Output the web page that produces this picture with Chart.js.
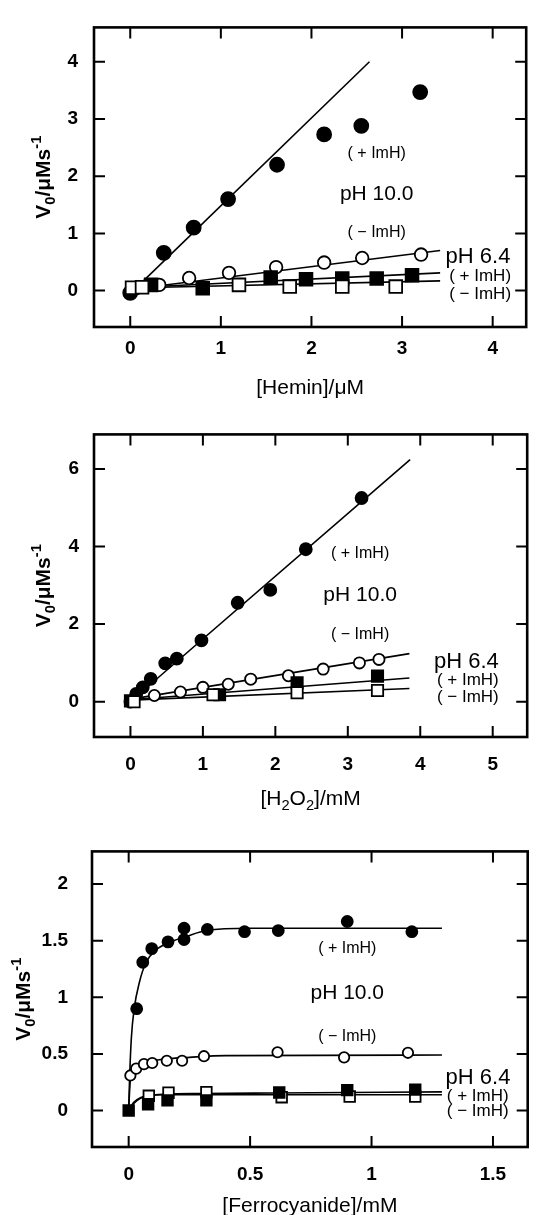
<!DOCTYPE html>
<html>
<head>
<meta charset="utf-8">
<script src="https://cdn.jsdelivr.net/npm/chart.js@4.4.0/dist/chart.umd.min.js"></script>
<style>
  html, body { margin: 0; padding: 0; background: #fff; }
  body { width: 537px; height: 1215px; position: relative; overflow: hidden; }
  .panel { position: absolute; left: 0; }
</style>
</head>
<body>
<div class="panel" style="top:0"><canvas id="hemin" width="537" height="408"></canvas></div>
<div class="panel" style="top:408px"><canvas id="peroxide" width="537" height="408"></canvas></div>
<div class="panel" style="top:816px"><canvas id="ferro" width="537" height="399"></canvas></div>
<script>
const FONT = '"Liberation Sans", Arial, Helvetica, sans-serif';

// ---- [Hemin] panel ----
let heminTicksX = [0, 1, 2, 3, 4];
let heminTicksY = [0, 1, 2, 3, 4];
let heminPh10PlusX = [0, 0.37, 0.70, 1.08, 1.62, 2.14, 2.55, 3.20];
let heminPh10PlusY = [-0.04, 0.66, 1.10, 1.60, 2.20, 2.73, 2.88, 3.47];
let heminPh10MinusX = [0.32, 0.65, 1.09, 1.61, 2.14, 2.56, 3.21];
let heminPh10MinusY = [0.10, 0.22, 0.31, 0.41, 0.49, 0.57, 0.63];
let heminPh64PlusX = [0.23, 0.80, 1.55, 1.94, 2.34, 2.72, 3.11];
let heminPh64PlusY = [0.10, 0.04, 0.23, 0.20, 0.21, 0.21, 0.27];
let heminPh64MinusX = [0.02, 0.13, 1.20, 1.76, 2.34, 2.93];
let heminPh64MinusY = [0.05, 0.06, 0.10, 0.07, 0.07, 0.07];
let heminFit10PlusX = [0.10, 2.64];
let heminFit10PlusY = [0.10, 4.00];
let heminFit10MinusX = [0.10, 3.42];
let heminFit10MinusY = [0.04, 0.70];
let heminFit64PlusX = [0.10, 3.42];
let heminFit64PlusY = [0.06, 0.31];
let heminFit64MinusX = [0.10, 3.42];
let heminFit64MinusY = [0.05, 0.17];

// ---- [H2O2] panel ----
let h2o2TicksX = [0, 1, 2, 3, 4, 5];
let h2o2TicksY = [0, 2, 4, 6];
let h2o2Ph10PlusX = [0, 0.08, 0.17, 0.28, 0.48, 0.64, 0.98, 1.48, 1.93, 2.42, 3.19];
let h2o2Ph10PlusY = [0, 0.20, 0.37, 0.59, 0.99, 1.11, 1.58, 2.55, 2.88, 3.93, 5.25];
let h2o2Ph10MinusX = [0.33, 0.69, 1.00, 1.35, 1.66, 2.18, 2.66, 3.16, 3.43];
let h2o2Ph10MinusY = [0.16, 0.25, 0.37, 0.45, 0.58, 0.67, 0.84, 1.00, 1.09];
let h2o2Ph64PlusX = [0, 1.23, 2.30, 3.41];
let h2o2Ph64PlusY = [0.02, 0.18, 0.49, 0.66];
let h2o2Ph64MinusX = [0.05, 1.14, 2.30, 3.41];
let h2o2Ph64MinusY = [0, 0.18, 0.23, 0.29];
let h2o2Fit10PlusX = [0.03, 3.86];
let h2o2Fit10PlusY = [0.05, 6.24];
let h2o2Fit10MinusX = [0.05, 3.85];
let h2o2Fit10MinusY = [0.08, 1.24];
let h2o2Fit64PlusX = [0, 3.85];
let h2o2Fit64PlusY = [0.05, 0.61];
let h2o2Fit64MinusX = [0, 3.85];
let h2o2Fit64MinusY = [0.04, 0.34];

// ---- [Ferrocyanide] panel ----
let ferroTicksX = [0, 0.5, 1, 1.5];
let ferroTicksY = [0, 0.5, 1, 1.5, 2];
let ferroPh10PlusX = [0.033, 0.058, 0.095, 0.162, 0.228, 0.228, 0.324, 0.477, 0.616, 0.90, 1.166];
let ferroPh10PlusY = [0.90, 1.31, 1.43, 1.49, 1.51, 1.61, 1.60, 1.58, 1.59, 1.67, 1.58];
let ferroPh10MinusX = [0.007, 0.031, 0.063, 0.097, 0.157, 0.22, 0.31, 0.613, 0.887, 1.15];
let ferroPh10MinusY = [0.31, 0.37, 0.41, 0.42, 0.44, 0.44, 0.48, 0.515, 0.47, 0.51];
let ferroPh64PlusX = [0, 0.08, 0.16, 0.32, 0.62, 0.90, 1.18];
let ferroPh64PlusY = [0, 0.055, 0.09, 0.09, 0.16, 0.18, 0.185];
let ferroPh64MinusX = [0.083, 0.164, 0.32, 0.63, 0.91, 1.18];
let ferroPh64MinusY = [0.13, 0.157, 0.163, 0.118, 0.124, 0.124];
// fitted curves
let ferroFit10PlusX = [0, 0.004, 0.011, 0.022, 0.045, 0.072, 0.113, 0.174, 0.24, 0.32, 0.50, 1.29];
let ferroFit10PlusY = [0, 0.30, 0.64, 0.89, 1.14, 1.31, 1.42, 1.49, 1.54, 1.59, 1.61, 1.61];
let ferroFit10MinusX = [0, 0.006, 0.018, 0.04, 0.08, 0.15, 0.25, 0.40, 1.29];
let ferroFit10MinusY = [0, 0.25, 0.37, 0.41, 0.43, 0.455, 0.47, 0.485, 0.49];
let ferroFit64PlusX = [0, 0.02, 0.05, 0.09, 0.15, 0.30, 0.60, 1.29];
let ferroFit64PlusY = [0, 0.06, 0.11, 0.135, 0.145, 0.15, 0.155, 0.165];
let ferroFit64MinusX = [0, 0.02, 0.05, 0.09, 0.15, 0.30, 0.60, 1.29];
let ferroFit64MinusY = [0, 0.07, 0.115, 0.135, 0.14, 0.14, 0.14, 0.14];

let yTitle = [['V', 0], ['0', -1], ['/\u03BCMs', 0], ['-1', 1]];

function pts(xs, ys) {
  return xs.map(function(x, i) { return {x: x, y: ys[i]}; });
}

function marks(xs, ys, style, filled, r) {
  return {
    data: pts(xs, ys),
    pointStyle: style,
    pointRadius: r,
    pointBackgroundColor: filled ? '#000' : '#fff',
    pointBorderColor: '#000',
    pointBorderWidth: 1.8,
    showLine: false,
    order: 1,
  };
}

function fit(xs, ys, curved) {
  return {
    data: pts(xs, ys),
    showLine: true,
    borderColor: '#000',
    borderWidth: 1.6,
    pointRadius: 0,
    cubicInterpolationMode: curved ? 'monotone' : 'default',
    order: 5,
  };
}

// text with sub (-1) / superscript (1) pieces, centred on cx,cy
function drawRich(ctx, parts, cx, cy, size, weight) {
  let widths = parts.map(function(p) {
    ctx.font = weight + ' ' + (p[1] ? size * 0.7 : size) + 'px ' + FONT;
    return ctx.measureText(p[0]).width;
  });
  let total = widths.reduce(function(a, b) { return a + b; }, 0);
  let x = cx - total / 2;
  let base = cy + size * 0.36;
  ctx.textAlign = 'left';
  ctx.textBaseline = 'alphabetic';
  parts.forEach(function(p, i) {
    ctx.font = weight + ' ' + (p[1] ? size * 0.7 : size) + 'px ' + FONT;
    let dy = p[1] < 0 ? size * 0.28 : (p[1] > 0 ? -size * 0.42 : 0);
    ctx.fillText(p[0], x, base + dy);
    x += widths[i];
  });
}

function buildPanel(id, p) {
  let canvas = document.getElementById(id);
  let W = canvas.width, H = canvas.height;

  let framePlugin = {
    id: 'frame' + id,
    afterDraw: function(chart) {
      let ctx = chart.ctx, a = chart.chartArea;
      let xs = chart.scales.x, ys = chart.scales.y;
      ctx.save();
      ctx.strokeStyle = '#000';
      ctx.fillStyle = '#000';
      ctx.lineWidth = 2.6;
      ctx.strokeRect(a.left, a.top, a.right - a.left, a.bottom - a.top);
      // inward ticks on all four sides
      ctx.lineWidth = 2;
      ctx.beginPath();
      p.ticksX.forEach(function(v) {
        let px = xs.getPixelForValue(v);
        ctx.moveTo(px, a.bottom); ctx.lineTo(px, a.bottom - 11);
        ctx.moveTo(px, a.top); ctx.lineTo(px, a.top + 11);
      });
      p.ticksY.forEach(function(v) {
        let py = ys.getPixelForValue(v);
        ctx.moveTo(a.left, py); ctx.lineTo(a.left + 11, py);
        ctx.moveTo(a.right, py); ctx.lineTo(a.right - 11, py);
      });
      ctx.stroke();
      // axis titles
      drawRich(ctx, p.xTitle, (a.left + a.right) / 2, a.bottom + p.xTitleGap, 21, 'normal');
      ctx.save();
      ctx.translate(p.yTitleX, (a.top + a.bottom) / 2);
      ctx.rotate(-Math.PI / 2);
      drawRich(ctx, yTitle, 0, 0, 21, 'bold');
      ctx.restore();
      // in-plot labels
      ctx.textBaseline = 'middle';
      p.notes.forEach(function(n) {
        ctx.font = 'normal ' + n.size + 'px ' + FONT;
        ctx.textAlign = n.align;
        ctx.fillText(n.t, xs.getPixelForValue(n.x), ys.getPixelForValue(n.y));
      });
      ctx.restore();
    }
  };

  let tickFont = { family: FONT, size: 19, weight: 'bold' };
  return new Chart(canvas, {
    type: 'scatter',
    data: { datasets: p.datasets },
    plugins: [framePlugin],
    options: {
      responsive: false,
      animation: false,
      events: [],
      layout: { padding: { top: p.area.top, right: W - p.area.right, left: 0, bottom: 0 } },
      plugins: { legend: { display: false }, tooltip: { enabled: false } },
      scales: {
        x: {
          type: 'linear', min: p.xMin, max: p.xMax,
          grid: { display: false, drawTicks: false },
          border: { display: false },
          ticks: { color: '#000', padding: p.xPad, font: tickFont, callback: function(v) { return String(v); } },
          afterBuildTicks: function(s) { s.ticks = p.ticksX.map(function(v) { return {value: v}; }); },
          afterFit: function(s) { s.height = H - p.area.bottom; },
        },
        y: {
          type: 'linear', min: p.yMin, max: p.yMax,
          grid: { display: false, drawTicks: false },
          border: { display: false },
          ticks: { color: '#000', padding: p.yPad, font: tickFont, callback: function(v) { return String(v); } },
          afterBuildTicks: function(s) { s.ticks = p.ticksY.map(function(v) { return {value: v}; }); },
          afterFit: function(s) { s.width = p.area.left; },
        },
      },
    },
  });
}

buildPanel('hemin', {
  area: { left: 94, top: 14, right: 535, bottom: 327 },
  xMin: -0.40, xMax: 4.37, yMin: -0.636, yMax: 4.60,
  ticksX: heminTicksX, ticksY: heminTicksY,
  xPad: 10, yPad: 16, xTitleGap: 59, yTitleX: 42,
  xTitle: [['[Hemin]/\u03BCM', 0]],
  datasets: [
    marks(heminPh64MinusX, heminPh64MinusY, 'rect', false, 9),
    marks(heminPh64PlusX, heminPh64PlusY, 'rect', true, 9),
    marks(heminPh10MinusX, heminPh10MinusY, 'circle', false, 6.3),
    marks(heminPh10PlusX, heminPh10PlusY, 'circle', true, 7),
    fit(heminFit10PlusX, heminFit10PlusY, false),
    fit(heminFit10MinusX, heminFit10MinusY, false),
    fit(heminFit64PlusX, heminFit64PlusY, false),
    fit(heminFit64MinusX, heminFit64MinusY, false),
  ],
  notes: [
    { t: '( + ImH)', x: 2.72, y: 2.40, size: 16, align: 'center' },
    { t: 'pH 10.0', x: 2.72, y: 1.69, size: 21, align: 'center' },
    { t: '( \u2212 ImH)', x: 2.72, y: 1.02, size: 16, align: 'center' },
    { t: 'pH 6.4', x: 3.48, y: 0.58, size: 22, align: 'left' },
    { t: '( + ImH)', x: 3.52, y: 0.25, size: 17, align: 'left' },
    { t: '( \u2212 ImH)', x: 3.52, y: -0.06, size: 17, align: 'left' },
  ],
});

buildPanel('peroxide', {
  area: { left: 94, top: 13, right: 534, bottom: 329 },
  xMin: -0.503, xMax: 5.476, yMin: -0.91, yMax: 6.89,
  ticksX: h2o2TicksX, ticksY: h2o2TicksY,
  xPad: 16, yPad: 15, xTitleGap: 60, yTitleX: 42,
  xTitle: [['[H', 0], ['2', -1], ['O', 0], ['2', -1], [']/mM', 0]],
  datasets: [
    marks(h2o2Ph64MinusX, h2o2Ph64MinusY, 'rect', false, 8),
    marks(h2o2Ph64PlusX, h2o2Ph64PlusY, 'rect', true, 8),
    marks(h2o2Ph10MinusX, h2o2Ph10MinusY, 'circle', false, 5.6),
    marks(h2o2Ph10PlusX, h2o2Ph10PlusY, 'circle', true, 6),
    fit(h2o2Fit10PlusX, h2o2Fit10PlusY, false),
    fit(h2o2Fit10MinusX, h2o2Fit10MinusY, false),
    fit(h2o2Fit64PlusX, h2o2Fit64PlusY, false),
    fit(h2o2Fit64MinusX, h2o2Fit64MinusY, false),
  ],
  notes: [
    { t: '( + ImH)', x: 3.17, y: 3.81, size: 16, align: 'center' },
    { t: 'pH 10.0', x: 3.17, y: 2.75, size: 21, align: 'center' },
    { t: '( \u2212 ImH)', x: 3.17, y: 1.72, size: 16, align: 'center' },
    { t: 'pH 6.4', x: 4.19, y: 1.02, size: 22, align: 'left' },
    { t: '( + ImH)', x: 4.23, y: 0.56, size: 17, align: 'left' },
    { t: '( \u2212 ImH)', x: 4.23, y: 0.12, size: 17, align: 'left' },
  ],
});

buildPanel('ferro', {
  area: { left: 92, top: 15, right: 531, bottom: 331 },
  xMin: -0.151, xMax: 1.643, yMin: -0.322, yMax: 2.289,
  ticksX: ferroTicksX, ticksY: ferroTicksY,
  xPad: 16, yPad: 24, xTitleGap: 57, yTitleX: 22,
  xTitle: [['[Ferrocyanide]/mM', 0]],
  datasets: [
    marks(ferroPh64PlusX, ferroPh64PlusY, 'rect', true, 7.5),
    marks(ferroPh64MinusX, ferroPh64MinusY, 'rect', false, 7.5),
    marks(ferroPh10MinusX, ferroPh10MinusY, 'circle', false, 5.2),
    marks(ferroPh10PlusX, ferroPh10PlusY, 'circle', true, 5.5),
    fit(ferroFit10PlusX, ferroFit10PlusY, true),
    fit(ferroFit10MinusX, ferroFit10MinusY, true),
    fit(ferroFit64PlusX, ferroFit64PlusY, true),
    fit(ferroFit64MinusX, ferroFit64MinusY, true),
  ],
  notes: [
    { t: '( + ImH)', x: 0.90, y: 1.43, size: 16, align: 'center' },
    { t: 'pH 10.0', x: 0.90, y: 1.04, size: 21, align: 'center' },
    { t: '( \u2212 ImH)', x: 0.90, y: 0.65, size: 16, align: 'center' },
    { t: 'pH 6.4', x: 1.305, y: 0.29, size: 22, align: 'left' },
    { t: '( + ImH)', x: 1.31, y: 0.124, size: 17, align: 'left' },
    { t: '( \u2212 ImH)', x: 1.31, y: -0.01, size: 17, align: 'left' },
  ],
});
</script>
</body>
</html>
